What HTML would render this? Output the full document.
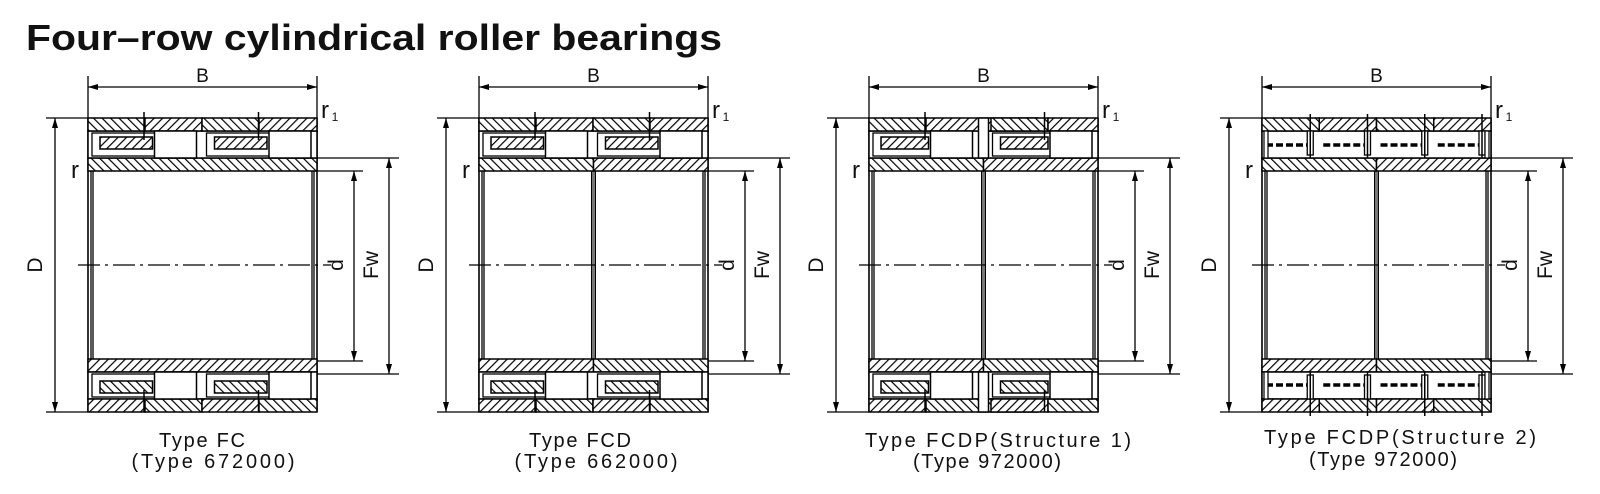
<!DOCTYPE html>
<html><head><meta charset="utf-8"><style>
html,body{margin:0;padding:0;background:#fff;}
svg{display:block;}
.t{font-family:"Liberation Sans",sans-serif;fill:#111;}
</style></head><body>
<svg id="s" width="1600" height="494" viewBox="0 0 1600 494" xmlns="http://www.w3.org/2000/svg">
<defs>
<pattern id="h1" width="6" height="6" patternUnits="userSpaceOnUse" patternTransform="rotate(45)"><rect width="6" height="6" fill="#fff"/><line x1="0" y1="0" x2="0" y2="6" stroke="#000" stroke-width="2.4"/></pattern>
<pattern id="h2" width="6" height="6" patternUnits="userSpaceOnUse" patternTransform="rotate(-45)"><rect width="6" height="6" fill="#fff"/><line x1="0" y1="0" x2="0" y2="6" stroke="#000" stroke-width="2.4"/></pattern>
<marker id="a" viewBox="0 0 10 6" refX="10" refY="3" markerWidth="10" markerHeight="6" markerUnits="userSpaceOnUse" orient="auto-start-reverse"><path d="M0,0 L10,3 L0,6 z" fill="#000"/></marker>
</defs>
<rect width="1600" height="494" fill="#fff"/>
<text class="t" x="26" y="50" font-size="36" font-weight="bold" textLength="696" lengthAdjust="spacingAndGlyphs">Four–row cylindrical roller bearings</text>
<g id="draw"></g>
<g class="t" font-size="20" text-anchor="middle">
<text x="202" y="447" textLength="86" lengthAdjust="spacing">Type FC</text>
<text x="213" y="468" textLength="163" lengthAdjust="spacing">(Type 672000)</text>
<text x="580" y="447" textLength="102" lengthAdjust="spacing">Type FCD</text>
<text x="596" y="468" textLength="163" lengthAdjust="spacing">(Type 662000)</text>
<text x="998" y="447" textLength="266" lengthAdjust="spacing">Type FCDP(Structure 1)</text>
<text x="987" y="468" textLength="148" lengthAdjust="spacing">(Type 972000)</text>
<text x="1400" y="444" textLength="272" lengthAdjust="spacing">Type FCDP(Structure 2)</text>
<text x="1383" y="466" textLength="148" lengthAdjust="spacing">(Type 972000)</text>
</g>
<g class="t" id="lbl"></g>
</svg>
<script>
var NS="http://www.w3.org/2000/svg",G=document.getElementById('draw'),L=document.getElementById('lbl');
function el(tag,a,p){var e=document.createElementNS(NS,tag);for(var k in a)e.setAttribute(k,a[k]);(p||G).appendChild(e);return e;}
function ln(x1,y1,x2,y2,w,extra){var a={x1:x1,y1:y1,x2:x2,y2:y2,stroke:'#000','stroke-width':w||1.3};for(var k in extra)a[k]=extra[k];return el('line',a);}
function rc(x,y,w,h,f,sw){return el('rect',{x:x,y:y,width:w,height:h,fill:f||'#fff',stroke:'#000','stroke-width':sw||1.5});}
function tx(x,y,s,sz,rot){var a={x:x,y:y,'font-size':sz,'text-anchor':'middle'};if(rot)a.transform='rotate(-90 '+x+' '+y+')';var e=el('text',a,L);e.textContent=s;return e;}
var T=118,Bt=412,C=265;
function bearing(ox,type){
  var X0=88+ox,X1=X0+229,W=229,M=X0+W/2;
  // dimension lines
  ln(X0,76,X0,T);ln(X1,76,X1,T);
  ln(X0,87,X1,87,1.3,{'marker-start':'url(#a)','marker-end':'url(#a)'});
  ln(X0-42,T,X0,T);ln(X0-42,Bt,X0,Bt);
  ln(X0-33,T,X0-33,Bt,1.3,{'marker-start':'url(#a)','marker-end':'url(#a)'});
  ln(X1,171,X1+46,171);ln(X1,361,X1+46,361);
  ln(X1+37,171,X1+37,361,1.3,{'marker-start':'url(#a)','marker-end':'url(#a)'});
  ln(X1,158,X1+82,158);ln(X1,374,X1+82,374);
  ln(X1+72,158,X1+72,374,1.3,{'marker-start':'url(#a)','marker-end':'url(#a)'});
  tx(M,82,'B',19);tx(X0-46,C,'D',21,1);tx(X1+26,C,'d',21,1);tx(X1+61,C,'Fw',21,1);
  tx(X0-13,178,'r',24);tx(X1+8,118,'r',24);tx(X1+18,121,'1',12);
  // bore
  ln(X0+3,171,X0+3,361,1.3);ln(X0+5,171,X0+5,361,1.3);
  ln(X1-3,171,X1-3,361,1.3);ln(X1-5,171,X1-5,361,1.3);
  ln(X0,118,X0,412,1.6);ln(X1,118,X1,412,1.6);
  if(type>0){rc(M-2,171,4,190,'#777',1);}
  ln(X0-10,C,X1+14,C,1.3,{'stroke-dasharray':'22,5,3,5'});
  // rings (top and bottom)
  [0,1].forEach(function(b){
    function Y(y,h){return b?2*C-y-h:y;}
    var hp=b?'h2':'h1',hq=b?'h1':'h2';
    // inner ring
    if(type>0){rc(X0,Y(158,13),W/2,13,'url(#'+hq+')');rc(M,Y(158,13),W/2,13,'url(#'+hp+')');}
    else rc(X0,Y(158,13),W,13,'url(#'+hq+')');
    // roller zone outline
    rc(X0,Y(131,27),W,27,'#fff');
    if(type<3){
      var segs=type==2?[[0,57],[57,112],[122,57],[179,50]]:[[0,57],[57,57],[114,57],[171,58]];
      segs.forEach(function(s,i){rc(X0+s[0],Y(118,13),s[1],13,'url(#'+(i%2?hp:hq)+')');});
      if(type==2){rc(M-5,Y(118,40),10,40,'#fff');}
      // cages & rollers per half
      [0,1].forEach(function(k){
        var hx=type==2?(k?M+5:X0):X0+k*W/2, hw=type==2?W/2-5:W/2;
        rc(hx+4,Y(133,23),hw-50,23,'#fff',1.3);
        rc(hx+12,Y(137,12),hw-62,12,'url(#'+hp+')',1.5);
        rc(hx+hw-48,Y(131,27),42,27,'#fff',1.5);
        ln(hx+56,Y(118,0)+(b?0:-6),hx+56,Y(140,0),1.5);
      });
    } else {
      for(var i=0;i<4;i++){var sx=X0+i*W/4;
        rc(sx,Y(118,13),W/4,13,'url(#'+(i%2?hp:hq)+')');
        ln(sx+4,Y(145,0),sx+W/4-4,Y(145,0),3.5,{'stroke-dasharray':'7,3'});
        rc(sx+W/4-12,Y(131,24),6,24,'#fff',1.3);
        ln(sx+W/4-9,Y(118,0)+(b?4:-4),sx+W/4-9,Y(158,0),1.5);
      }
      rc(X0+2,Y(131,27),4,27,'#fff',1.2);rc(X1-6,Y(131,27),4,27,'#fff',1.2);
    }
  });
}
bearing(0,0);bearing(391,1);bearing(781,2);bearing(1174,3);
</script>
</body></html>
